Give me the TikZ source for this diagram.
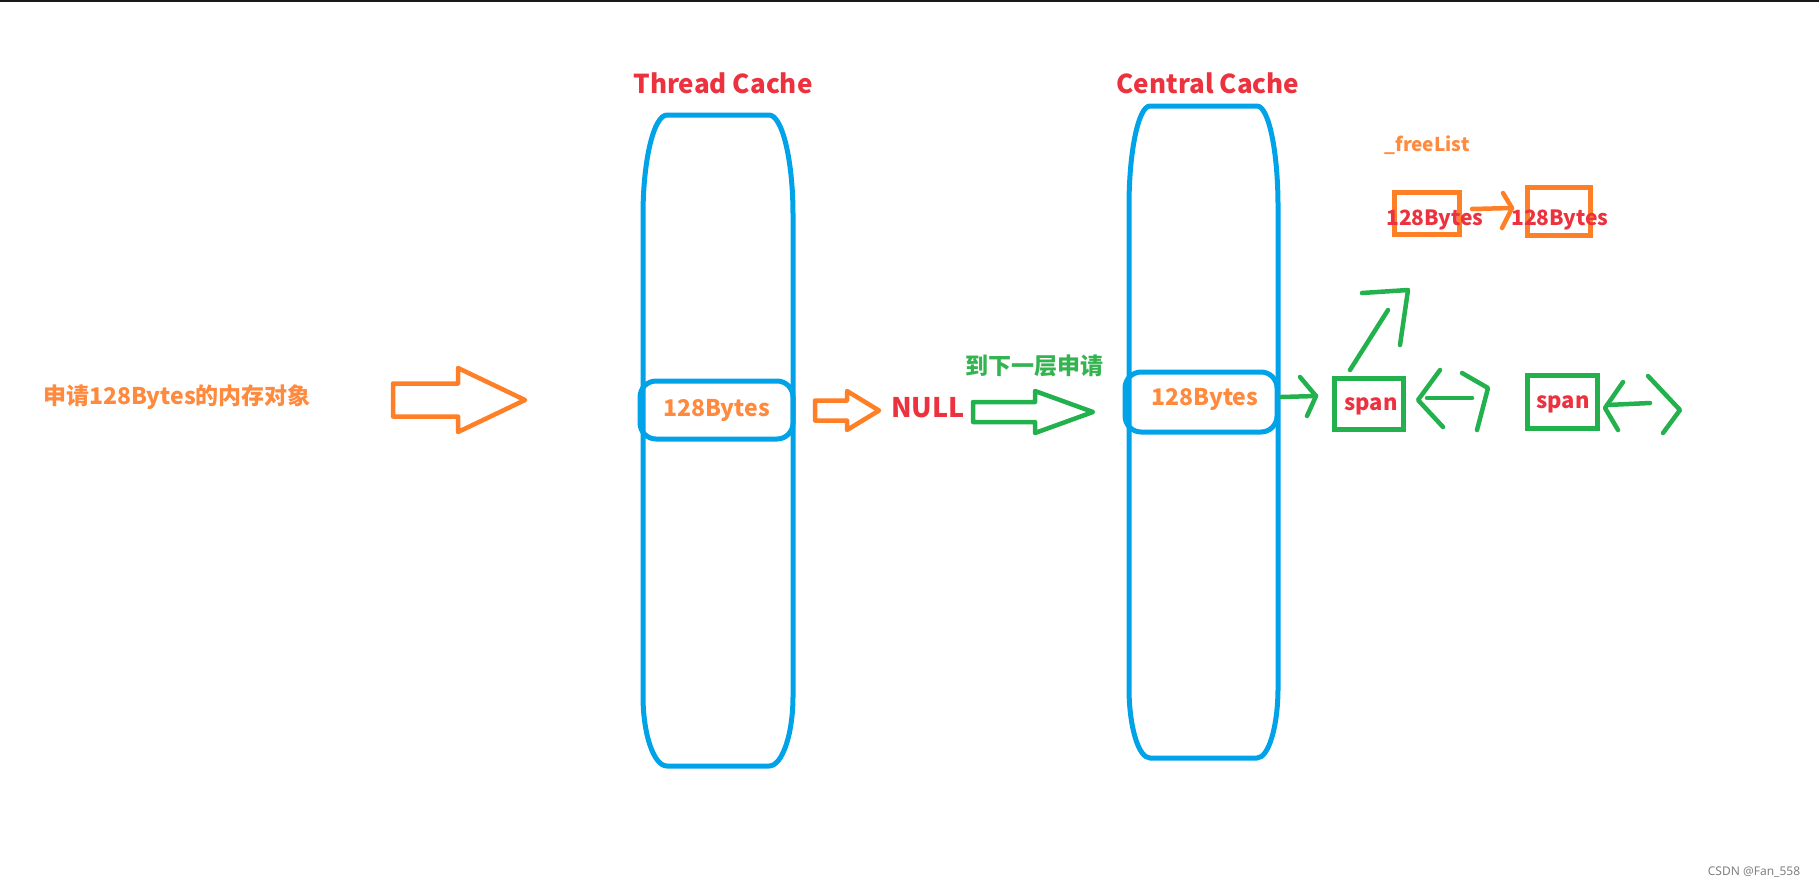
\documentclass[tikz,border=0pt]{standalone}
\usepackage{fontspec}
\setmainfont{Noto Sans CJK SC}
\newfontfamily\wmfont{Noto Sans}
\definecolor{pblue}{RGB}{0,162,232}
\definecolor{porange}{RGB}{255,127,39}
\definecolor{pgreen}{RGB}{34,177,76}
\definecolor{tred}{RGB}{236,50,62}
\definecolor{torange}{RGB}{255,137,60}
\definecolor{tgreen}{RGB}{52,180,80}
\newcommand\cachecol[7]{%
\draw[col] (#1,#3+#6) .. controls (#1,#3+0.45*#6) and (#1+0.45*#5,#3) .. (#1+#5,#3) -- (#2-#5,#3) .. controls (#2-0.45*#5,#3) and (#2,#3+0.45*#6) .. (#2,#3+#6) -- (#2,#4-#7) .. controls (#2,#4-0.45*#7) and (#2-0.45*#5,#4) .. (#2-#5,#4) -- (#1+#5,#4) .. controls (#1+0.45*#5,#4) and (#1,#4-0.45*#7) .. (#1,#4-#7) -- cycle;}
% x0 x1 xhead ycenter shafthalf headhalf
\newcommand\blockarrow[7]{%
\draw[barrow,#7] (#1,#4-#5) -- (#3,#4-#5) -- (#3,#4-#6) -- (#2,#4) -- (#3,#4+#6) -- (#3,#4+#5) -- (#1,#4+#5) -- cycle;}
\tikzset{
  col/.style={draw=pblue, line width=5pt, line join=round},
  rbox/.style={draw=pblue, line width=5pt, rounded corners=16pt, inner sep=0pt},
  barrow/.style={line width=4.5pt, line join=round},
  hand/.style={line width=4.5pt, line cap=round, line join=round},
  title/.style={text=tred, font=\fontsize{26}{30}\selectfont\bfseries, inner sep=0pt},
  otext/.style={text=torange, font=\fontsize{23}{27}\selectfont\bfseries, inner sep=0pt},
  rtext/.style={text=tred, font=\fontsize{21}{25}\selectfont\bfseries, inner sep=0pt},
  obox/.style={draw=porange, line width=5pt, inner sep=0pt},
  spanbox/.style={draw=pgreen, line width=5pt, inner sep=0pt},
  spantext/.style={text=tred, font=\fontsize{22}{26}\selectfont\bfseries, inner sep=0pt},
}
\begin{document}
\begin{tikzpicture}[x=1pt,y=-1pt]
\useasboundingbox (0,0) rectangle (1819,887);
\fill[white] (0,0) rectangle (1819,887);
\draw[line width=1.5pt, black!90] (0,0.75) -- (1819,0.75);

% columns
\cachecol{643}{793}{115}{766}{24}{100}{70}
\cachecol{1129}{1278}{106}{758}{21}{100}{70}

% titles
\node[title, anchor=base] (tt) at (723,93) {Thread Cache};
\node[title, anchor=base] (ct) at (1208,93) {Central Cache};

% left request text
\node[otext] (req) at (177,397) {申请128Bytes的内存对象};
\blockarrow{393}{525}{458}{400}{16.5}{32}{porange}

% thread cache slot
\node[rbox, minimum width=153pt, minimum height=58pt, otext] (tslot) at (716.5,410) {128Bytes};
\blockarrow{815}{879}{847}{410.5}{10}{19.5}{porange}
\node[text=tred, font=\fontsize{27}{31}\selectfont\bfseries, inner sep=0pt] (null) at (928,408) {NULL};
\blockarrow{973}{1093}{1035}{412}{10}{21}{pgreen}
\node[text=tgreen, font=\fontsize{23}{27}\selectfont\bfseries, inner sep=0pt] (next) at (1034,366) {到下一层申请};

% central cache slot
\node[rbox, minimum width=152pt, minimum height=60pt] (cslot) at (1201,402) {};
\node[otext] (cslottext) at (1205,399) {128Bytes};

% freeList
\node[text=torange, font=\fontsize{19}{23}\selectfont\bfseries, inner sep=0pt] (fl) at (1427,145) {\_freeList};
\node[obox, minimum width=65pt, minimum height=42pt] (ob1) at (1426.5,213) {};
\node[obox, minimum width=63pt, minimum height=48pt] (ob2) at (1558.5,211) {};
\node[rtext] (b1) at (1435,220) {128Bytes};
\node[rtext] (b2) at (1560,220) {128Bytes};
\coordinate (o1) at (1472,209);
\coordinate (o2) at (1512,208);
\draw[hand, porange] (o1) -- (o2);
\draw[hand, porange] (1503,193) -- (o2) -- (1502,228);

% spans
\node[spanbox, minimum width=69pt, minimum height=51pt] (s1) at (1368.5,403.5) {};
\node[spantext] (s1t) at (1371,406) {span};
\node[spanbox, minimum width=70pt, minimum height=53pt] (s2) at (1562,401.5) {};
\node[spantext] (s2t) at (1563,404) {span};

% central slot -> span
\coordinate (g1a) at (1281,397);
\coordinate (g1b) at (1316,396);
\draw[hand, pgreen] (g1a) -- (g1b);
\draw[hand, pgreen] (1300,377) -- (g1b) -- (1307,416);

% span -> freeList (up arrow)
\coordinate (u1) at (1350,370);
\coordinate (u2) at (1388,310);
\coordinate (ut) at (1408,290);
\draw[hand, pgreen] (u1) -- (u2);
\draw[hand, pgreen] (1362,293) -- (ut) -- (1400,345);

% double arrows
\draw[hand, pgreen] (1440,370) -- (1418,400) -- (1443,427);
\draw[hand, pgreen] (1427,398) -- (1472,398);
\draw[hand, pgreen] (1462,373) -- (1488,388) -- (1477,430);

\draw[hand, pgreen] (1623,382) -- (1605,408) -- (1618,430);
\draw[hand, pgreen] (1607,405) -- (1650,403);
\draw[hand, pgreen] (1648,376) -- (1680,410) -- (1663,433);

% watermark
\node[text=black!50, font=\wmfont\fontsize{12}{14}\selectfont, inner sep=0pt] (wm) at (1754,872) {CSDN @Fan\_558};
\end{tikzpicture}
\end{document}
